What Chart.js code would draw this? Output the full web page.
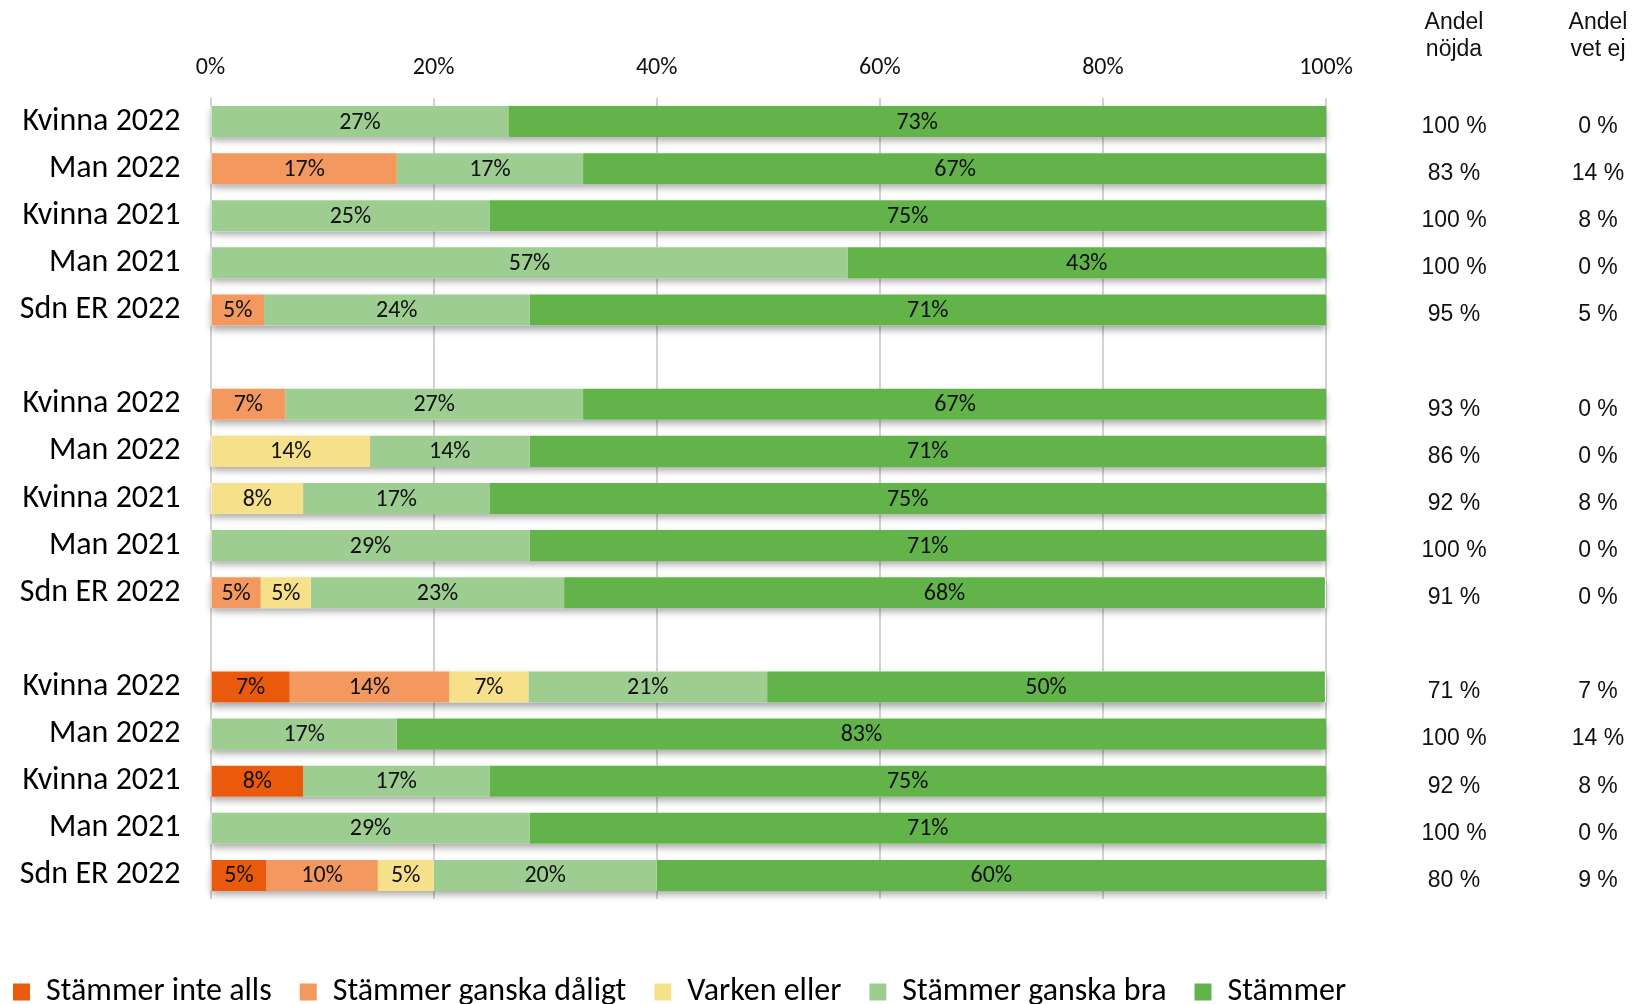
<!DOCTYPE html>
<html>
<head>
<meta charset="utf-8">
<script src="https://cdn.jsdelivr.net/npm/chart.js@4/dist/chart.umd.min.js"></script>
<style>
  body { margin: 0; background: #fff; }
  canvas { display: block; }
</style>
</head>
<body>
<canvas id="myChart" width="1642" height="1004"></canvas>
<script>
const labels = [
  "Kvinna 2022", "Man 2022", "Kvinna 2021", "Man 2021", "Sdn ER 2022", "",
  "Kvinna 2022", "Man 2022", "Kvinna 2021", "Man 2021", "Sdn ER 2022", "",
  "Kvinna 2022", "Man 2022", "Kvinna 2021", "Man 2021", "Sdn ER 2022",
];

const seriesNames = ["Stämmer inte alls", "Stämmer ganska dåligt", "Varken eller", "Stämmer ganska bra", "Stämmer"];

const inteAlls = [0, 0, 0, 0, 0, null, 0, 0, 0, 0, 0, null, 7.1, 0, 8.3, 0, 5];
const ganskaDaligt = [0, 16.7, 0, 0, 4.8, null, 6.7, 0, 0, 0, 4.5, null, 14.3, 0, 0, 0, 10];
const varkenEller = [0, 0, 0, 0, 0, null, 0, 14.3, 8.3, 0, 4.5, null, 7.1, 0, 0, 0, 5];
const ganskaBra = [26.7, 16.7, 25, 57.1, 23.8, null, 26.7, 14.3, 16.7, 28.6, 22.7, null, 21.4, 16.7, 16.7, 28.6, 20];
const stammer = [73.3, 66.7, 75, 42.9, 71.4, null, 66.7, 71.4, 75, 71.4, 68.2, null, 50, 83.3, 75, 71.4, 60];

const andelNojda = [100, 83, 100, 100, 95, null, 93, 86, 92, 100, 91, null, 71, 100, 92, 100, 80];
const andelVetEj = [0, 14, 8, 0, 5, null, 0, 0, 8, 0, 0, null, 7, 14, 8, 0, 9];

const xTicks = [0, 20, 40, 60, 80, 100];

const colors = ["#E95A0C", "#F3985E", "#F6E08A", "#9ECD92", "#63B34B"];
const calibri = "Carlito, Calibri, Lato, sans-serif";
const arial = "'Liberation Sans', Arial, sans-serif";

const ctx = document.querySelector("#myChart").getContext("2d");

//soft shadow under each bar row
const rowShadow = {
  id: "rowShadow",
  beforeDatasetsDraw(chart) {
    const c = chart.ctx;
    const x = chart.scales.x;
    const meta = chart.getDatasetMeta(4);
    c.save();
    c.shadowColor = "rgba(0,0,0,0.35)";
    c.shadowBlur = 7;
    c.shadowOffsetY = 4;
    c.fillStyle = "#fff";
    meta.data.forEach((bar, i) => {
      if (stammer[i] == null) return;
      const x0 = x.getPixelForValue(0);
      const x1 = x.getPixelForValue(100);
      c.fillRect(x0, bar.y - bar.height / 2, x1 - x0, bar.height);
    });
    c.restore();
  },
};

//percent labels in the middle of each segment
const barLabels = {
  id: "barLabels",
  afterDatasetsDraw(chart) {
    const c = chart.ctx;
    c.save();
    c.font = "24px " + calibri;
    c.fillStyle = "#111";
    c.textAlign = "center";
    c.textBaseline = "middle";
    chart.data.datasets.forEach((ds, d) => {
      chart.getDatasetMeta(d).data.forEach((bar, i) => {
        const v = ds.data[i];
        if (!v) return;
        c.fillText(Math.round(v) + "%", (bar.x + bar.base) / 2, bar.y + 1);
      });
    });
    c.restore();
  },
};

//the two columns on the right
const sideTable = {
  id: "sideTable",
  afterDraw(chart) {
    const c = chart.ctx;
    const y = chart.scales.y;
    const col1 = chart.chartArea.right + 128;
    const col2 = chart.chartArea.right + 272;
    c.save();
    c.font = "23px " + arial;
    c.fillStyle = "#111";
    c.textAlign = "center";
    c.textBaseline = "middle";
    c.fillText("Andel", col1, 23);
    c.fillText("nöjda", col1, 50);
    c.fillText("Andel", col2, 23);
    c.fillText("vet ej", col2, 50);
    labels.forEach((l, i) => {
      if (andelNojda[i] == null) return;
      const py = y.getPixelForValue(i) + 5;
      c.fillText(andelNojda[i] + " %", col1, py);
      c.fillText(andelVetEj[i] + " %", col2, py);
    });
    c.restore();
  },
};

const data = {
  labels,
  datasets: [inteAlls, ganskaDaligt, varkenEller, ganskaBra, stammer].map((arr, i) => ({
    label: seriesNames[i],
    data: arr,
    backgroundColor: colors[i],
    borderWidth: 0,
    categoryPercentage: 1,
    barPercentage: 0.66,
  })),
};

const config = {
  type: "bar",
  data: data,
  plugins: [rowShadow, barLabels, sideTable],
  options: {
    indexAxis: "y",
    responsive: false,
    animation: false,
    devicePixelRatio: 1,
    layout: {
      padding: { left: -15, right: 0, top: 0, bottom: -14 },
    },
    scales: {
      x: {
        position: "top",
        stacked: true,
        min: 0,
        max: 100,
        afterBuildTicks: (scale) => {
          scale.ticks = xTicks.map((v) => ({ value: v }));
        },
        afterFit: (scale) => {
          scale.height = 98;
        },
        ticks: {
          callback: (v) => v + "%",
          font: { family: calibri, size: 24 },
          color: "#111",
          padding: 16,
          maxRotation: 0,
        },
        grid: {
          color: "#D2D2D2",
          lineWidth: 2,
          drawTicks: false,
        },
        border: { display: false },
      },
      x2: {
        type: "linear",
        position: "bottom",
        afterFit: (scale) => {
          scale.height = 49;
        },
        ticks: { display: false },
        grid: { display: false },
        border: { display: false },
      },
      y: {
        stacked: true,
        afterFit: (scale) => {
          scale.width = 225.5;
        },
        ticks: {
          font: { family: calibri, size: 32 },
          color: "#000",
          padding: 30,
          autoSkip: false,
        },
        grid: { display: false, drawTicks: false },
        border: { display: false },
      },
      y2: {
        type: "category",
        position: "right",
        afterFit: (scale) => {
          scale.width = 316;
        },
        ticks: { display: false },
        grid: { display: false },
        border: { display: false },
      },
    },
    plugins: {
      legend: {
        position: "bottom",
        align: "start",
        labels: {
          boxWidth: 17,
          boxHeight: 17,
          padding: 28,
          color: "#000",
          font: { family: calibri, size: 32 },
        },
      },
      tooltip: { enabled: false },
    },
  },
};

const myChart = new Chart(ctx, config);
</script>
</body>
</html>
